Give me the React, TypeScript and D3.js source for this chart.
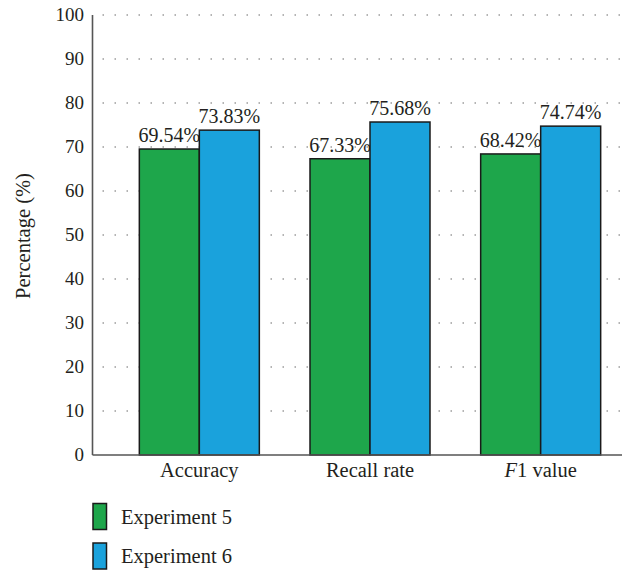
import React from "react";
import * as d3 from "d3";

const categories = ["Accuracy", "Recall rate", "F1 value"];
const seriesNames = ["Experiment 5", "Experiment 6"];
const experiment5 = [69.54, 67.33, 68.42];
const experiment6 = [73.83, 75.68, 74.74];
const yTicks = [0, 10, 20, 30, 40, 50, 60, 70, 80, 90, 100];
const colors = ["#1ea64b", "#1aa2dc"];

const W = 629;
const H = 574;
const FONT = '"Liberation Serif", "Times New Roman", serif';
const INK = "#231f20";

export default function App() {
  const x0 = 92.5;
  const x1 = 622;
  const y = d3.scaleLinear().domain([0, 100]).range([455, 15]);
  const band = d3.scaleBand<string>().domain(categories).range([114, 626]).paddingInner(0);
  const barW = 60;
  const series = [experiment5, experiment6];

  return (
    <svg
      width={W}
      height={H}
      style={{ position: "absolute", left: 0, top: 0, background: "#fff", fontFamily: FONT }}
    >
      {/* dotted horizontal gridlines */}
      {yTicks.slice(1).map((t) => (
        <line
          key={"g" + t}
          x1={x0 + 10}
          x2={x1}
          y1={y(t)}
          y2={y(t)}
          stroke="#6a6a6a"
          strokeWidth={1.2}
          strokeDasharray="1.5,10.5"
        />
      ))}
      {/* tick labels */}
      {yTicks.map((t) => (
        <text
          key={"t" + t}
          x={84}
          y={y(t)}
          dy="0.33em"
          textAnchor="end"
          style={{ fontFamily: FONT, fontSize: 19 }}
          fill={INK}
        >
          {t}
        </text>
      ))}
      {/* bars */}
      {categories.map((c, i) => {
        const cx = (band(c) as number) + band.bandwidth() / 2;
        return (
          <g key={c}>
            {series.map((s, k) => {
              const bx = cx - barW + k * barW;
              return (
                <g key={k}>
                  <rect
                    x={bx}
                    y={y(s[i])}
                    width={barW}
                    height={y(0) - y(s[i])}
                    fill={colors[k]}
                    stroke="#1a1a1a"
                    strokeWidth={1.5}
                  />
                  <text
                    x={bx + barW / 2}
                    y={y(s[i]) - 7}
                    textAnchor="middle"
                    style={{ fontFamily: FONT, fontSize: 20 }}
                    fill={INK}
                  >
                    {s[i].toFixed(2)}%
                  </text>
                </g>
              );
            })}
            <text
              x={cx}
              y={477}
              textAnchor="middle"
              style={{ fontFamily: FONT, fontSize: 20.5 }}
              fill={INK}
            >
              {c === "F1 value" ? (
                <>
                  <tspan fontStyle="italic">F</tspan>
                  <tspan>1 value</tspan>
                </>
              ) : (
                c
              )}
            </text>
          </g>
        );
      })}
      {/* axes */}
      <line x1={x0} x2={x0} y1={y(100)} y2={y(0)} stroke="#555" strokeWidth={1.6} />
      <line x1={x0} x2={x1} y1={y(0)} y2={y(0)} stroke="#555" strokeWidth={1.6} />
      {/* y axis title */}
      <text
        transform={`translate(30,${(y(0) + y(100)) / 2 + 1}) rotate(-90)`}
        textAnchor="middle"
        style={{ fontFamily: FONT, fontSize: 20.5 }}
        fill={INK}
      >
        Percentage (%)
      </text>
      {/* legend */}
      {seriesNames.map((n, k) => (
        <g key={n} transform={`translate(93,${503.5 + k * 39.5})`}>
          <rect width={13.5} height={26} fill={colors[k]} stroke="#1a1a1a" strokeWidth={1.5} />
          <text
            x={28}
            y={13}
            dy="0.35em"
            style={{ fontFamily: FONT, fontSize: 20.5 }}
            fill={INK}
          >
            {n}
          </text>
        </g>
      ))}
    </svg>
  );
}
